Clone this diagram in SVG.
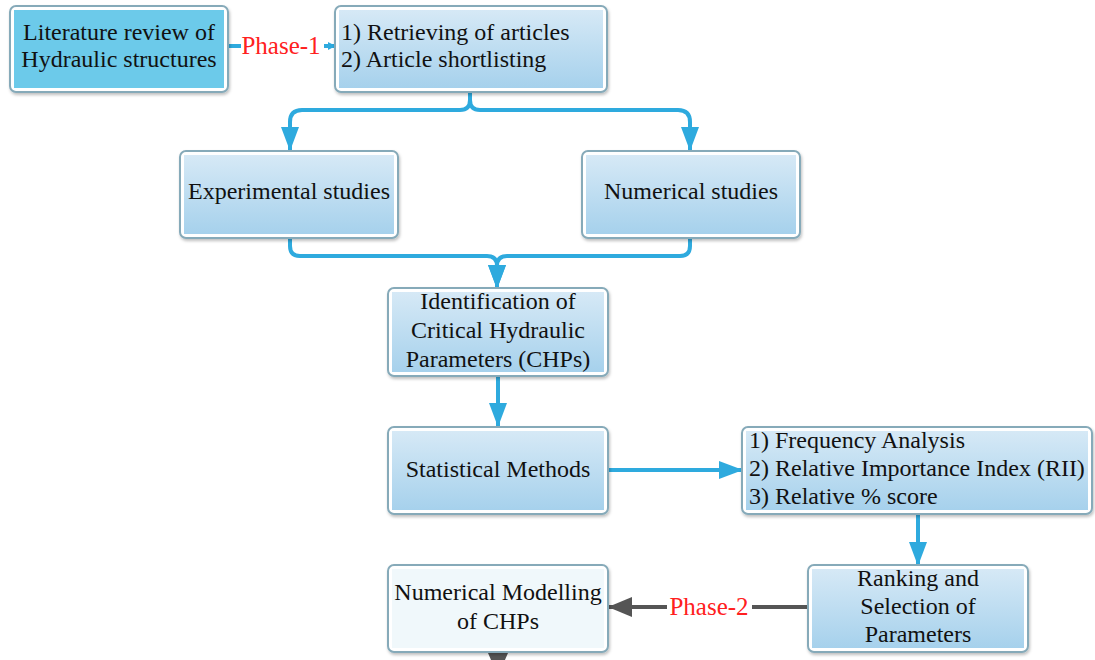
<svg xmlns="http://www.w3.org/2000/svg" width="1095" height="660" viewBox="0 0 1095 660">
<defs>
<linearGradient id="g" x1="0" y1="0" x2="0" y2="1"><stop offset="0" stop-color="#d6e9f6"/><stop offset="1" stop-color="#a6d1ec"/></linearGradient>
<marker id="ab" viewBox="0 0 24 18" refX="23" refY="9" markerWidth="24" markerHeight="18" orient="auto" markerUnits="userSpaceOnUse"><path d="M0,0 L24,9 L0,18 z" fill="#2eaade"/></marker>
<marker id="as" viewBox="0 0 10 10" refX="9" refY="5" markerWidth="8" markerHeight="8" orient="auto" markerUnits="userSpaceOnUse"><path d="M0,0 L10,5 L0,10 z" fill="#2eaade"/></marker>
<marker id="ag" viewBox="0 0 24 20" refX="23" refY="10" markerWidth="24" markerHeight="20" orient="auto" markerUnits="userSpaceOnUse"><path d="M0,0 L24,10 L0,20 z" fill="#555"/></marker>
<filter id="sh" x="-5%" y="-5%" width="110%" height="115%"><feDropShadow dx="1" dy="2" stdDeviation="1.5" flood-color="#000" flood-opacity="0.25"/></filter>
</defs>
<style>
.o{fill:#fff;stroke:#86aab9;stroke-width:2;filter:url(#sh)}
.i{fill:url(#g)}
.t{font-family:"Liberation Serif","Times New Roman",serif;font-size:24px;fill:#111}
.c{text-anchor:middle}
.r{font-family:"Liberation Serif","Times New Roman",serif;font-size:25px;fill:#ff2020;text-anchor:middle}
.b{fill:none;stroke:#2eaade;stroke-width:4}
.gl{fill:none;stroke:#555;stroke-width:4}
</style>
<rect width="1095" height="660" fill="#fff"/>
<g id="connectors">
<line class="b" x1="228" y1="46" x2="241" y2="46" stroke-width="5"/>
<line class="b" x1="324" y1="46" x2="335" y2="46" stroke-width="2" marker-end="url(#as)"/>
<path class="b" d="M470,92 V100 Q470,110 460,110 H302 Q290,110 290,122 V150" marker-end="url(#ab)"/>
<path class="b" d="M470,92 V100 Q470,110 480,110 H678 Q690,110 690,122 V150" marker-end="url(#ab)"/>
<path class="b" d="M290,238 V246 Q290,256 300,256 H487 Q497,256 497,266 V288" marker-end="url(#ab)"/>
<path class="b" d="M690,238 V246 Q690,256 680,256 H507 Q497,256 497,266 V288" marker-end="url(#ab)"/>
<line class="b" x1="498" y1="376" x2="498" y2="426" marker-end="url(#ab)"/>
<line class="b" x1="608" y1="470" x2="742" y2="470" marker-end="url(#ab)"/>
<line class="b" x1="918" y1="514" x2="918" y2="565" marker-end="url(#ab)"/>
<line class="gl" x1="808" y1="607" x2="752" y2="607"/>
<line class="gl" x1="667" y1="607" x2="609" y2="607" marker-end="url(#ag)"/>
<path d="M488,653 L508,653 L498,676 z" fill="#555"/>
<text class="r" x="281" y="54">Phase-1</text>
<text class="r" x="709" y="615">Phase-2</text>
</g>
<g id="n1">
<rect class="o" x="10" y="6" width="218" height="86" rx="6"/>
<rect x="14" y="10" width="210" height="78" fill="#6ccaea"/>
<text class="t c" x="119" y="40">Literature review of</text>
<text class="t c" x="119" y="67">Hydraulic structures</text>
</g>
<g id="n2">
<rect class="o" x="335" y="6" width="272" height="86" rx="6"/>
<rect class="i" x="339" y="10" width="264" height="78"/>
<text class="t" x="341" y="40">1) Retrieving of articles</text>
<text class="t" x="341" y="67">2) Article shortlisting</text>
</g>
<g id="n3">
<rect class="o" x="180" y="151" width="218" height="87" rx="6"/>
<rect class="i" x="184" y="155" width="210" height="79"/>
<text class="t c" x="289" y="199">Experimental studies</text>
</g>
<g id="n4">
<rect class="o" x="582" y="151" width="218" height="87" rx="6"/>
<rect class="i" x="586" y="155" width="210" height="79"/>
<text class="t c" x="691" y="199">Numerical studies</text>
</g>
<g id="n5">
<rect class="o" x="388" y="288" width="220" height="88" rx="6"/>
<rect class="i" x="392" y="292" width="212" height="80"/>
<text class="t c" x="498" y="309">Identification of</text>
<text class="t c" x="498" y="338">Critical Hydraulic</text>
<text class="t c" x="498" y="367">Parameters (CHPs)</text>
</g>
<g id="n6">
<rect class="o" x="388" y="427" width="220" height="87" rx="6"/>
<rect class="i" x="392" y="431" width="212" height="79"/>
<text class="t c" x="498" y="477">Statistical Methods</text>
</g>
<g id="n7">
<rect class="o" x="742" y="427" width="350" height="87" rx="6"/>
<rect class="i" x="746" y="431" width="342" height="79"/>
<text class="t" x="749" y="448">1) Frequency Analysis</text>
<text class="t" x="749" y="476">2) Relative Importance Index (RII)</text>
<text class="t" x="749" y="504">3) Relative % score</text>
</g>
<g id="n8">
<rect class="o" x="808" y="565" width="220" height="87" rx="6"/>
<rect class="i" x="812" y="569" width="212" height="79"/>
<text class="t c" x="918" y="586">Ranking and</text>
<text class="t c" x="918" y="614">Selection of</text>
<text class="t c" x="918" y="642">Parameters</text>
</g>
<g id="n9">
<rect class="o" x="388" y="565" width="220" height="87" rx="6"/>
<rect x="392" y="569" width="212" height="79" fill="#f0f8fb"/>
<text class="t c" x="498" y="600">Numerical Modelling</text>
<text class="t c" x="498" y="629">of CHPs</text>
</g>
</svg>
